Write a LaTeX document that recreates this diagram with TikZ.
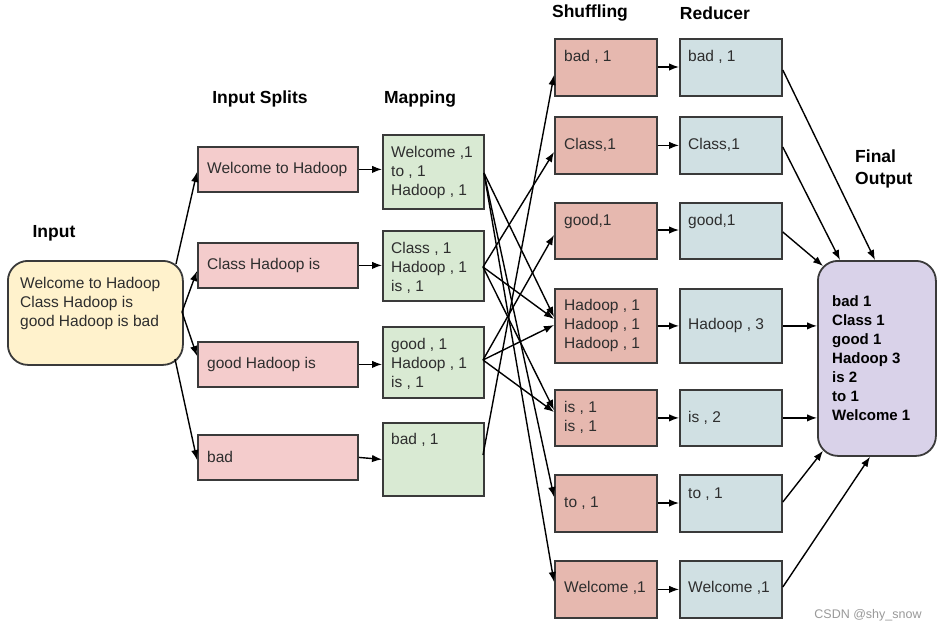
\documentclass[tikz,border=0pt]{standalone}
\usepackage{fontspec}
\setmainfont{Liberation Sans}
\usetikzlibrary{arrows.meta,calc}
\definecolor{inputc}{HTML}{FFF2CC}
\definecolor{splitc}{HTML}{F4CCCC}
\definecolor{mapc}{HTML}{D9EAD3}
\definecolor{shufc}{HTML}{E6B8AF}
\definecolor{redc}{HTML}{D0E0E3}
\definecolor{finalc}{HTML}{D9D2E9}
\definecolor{bordc}{HTML}{3A3A3A}
\definecolor{txtc}{HTML}{2E2E2E}
\begin{document}
\begin{tikzpicture}[x=1pt,y=-1pt,
  box/.style={draw=bordc, line width=1.8pt, inner sep=0pt, anchor=north west},
  rbox/.style={box, rounded corners=20pt},
  txt/.style={anchor=west, inner sep=0pt, text=txtc, font=\fontsize{15.5}{19}\selectfont, align=left},
  btxt/.style={txt, text=black, font=\fontsize{15}{19}\selectfont\bfseries},
  hdr/.style={font=\fontsize{17.5}{22}\selectfont\bfseries, text=black, inner sep=0pt},
  arr/.style={-{Latex[length=10pt,width=7.5pt]}, line width=1.4pt, black},
  wmark/.style={text=gray!80, font=\fontsize{12.5}{15}\selectfont, inner sep=0pt}
]
\useasboundingbox (0,0) rectangle (941,632);

% headers
\node[hdr] (hInput) at (54,233) {Input};
\node[hdr] (hSplit) at (260,99) {Input Splits};
\node[hdr] (hMap) at (420,99) {Mapping};
\node[hdr] (hShuf) at (590,13) {Shuffling};
\node[hdr] (hRed) at (715,13) {Reducer};
\node[hdr, anchor=west, align=left] (hFinal) at (855,169) {Final\\Output};

% input
\node[rbox, fill=inputc, minimum width=175, minimum height=104] (In) at (7,260) {};
\node[txt] (tIn) at (20,303) {Welcome to Hadoop\\Class Hadoop is\\good Hadoop is bad};

% splits
\node[box, fill=splitc, minimum width=160, minimum height=45] (Sp1) at (197,146) {};
\node[box, fill=splitc, minimum width=160, minimum height=45] (Sp2) at (197,242) {};
\node[box, fill=splitc, minimum width=160, minimum height=45] (Sp3) at (197,341) {};
\node[box, fill=splitc, minimum width=160, minimum height=45] (Sp4) at (197,434) {};
\node[txt] (tSp1) at (207,169) {Welcome to Hadoop};
\node[txt] (tSp2) at (207,265) {Class Hadoop is};
\node[txt] (tSp3) at (207,364) {good Hadoop is};
\node[txt] (tSp4) at (207,457) {bad};

% mapping
\node[box, fill=mapc, minimum width=101, minimum height=74] (M1) at (382,134) {};
\node[box, fill=mapc, minimum width=101, minimum height=70] (M2) at (382,230) {};
\node[box, fill=mapc, minimum width=101, minimum height=71] (M3) at (382,326) {};
\node[box, fill=mapc, minimum width=101, minimum height=73] (M4) at (382,422) {};
\node[txt] (tM1) at (391,172) {Welcome ,1\\to , 1\\Hadoop , 1};
\node[txt] (tM2) at (391,268) {Class , 1\\Hadoop , 1\\is , 1};
\node[txt] (tM3) at (391,364) {good , 1\\Hadoop , 1\\is , 1};
\node[txt] (tM4) at (391,440) {bad , 1};

% shuffling
\node[box, fill=shufc, minimum width=102, minimum height=57] (S1) at (554,38) {};
\node[box, fill=shufc, minimum width=102, minimum height=57] (S2) at (554,116) {};
\node[box, fill=shufc, minimum width=102, minimum height=56] (S3) at (554,202) {};
\node[box, fill=shufc, minimum width=102, minimum height=74] (S4) at (554,288) {};
\node[box, fill=shufc, minimum width=102, minimum height=56] (S5) at (554,389) {};
\node[box, fill=shufc, minimum width=102, minimum height=57] (S6) at (554,474) {};
\node[box, fill=shufc, minimum width=102, minimum height=57] (S7) at (554,560) {};
\node[txt] (tS1) at (564,57) {bad , 1};
\node[txt] (tS2) at (564,145) {Class,1};
\node[txt] (tS3) at (564,221) {good,1};
\node[txt] (tS4) at (564,325) {Hadoop , 1\\Hadoop , 1\\Hadoop , 1};
\node[txt] (tS5) at (564,417) {is , 1\\is , 1};
\node[txt] (tS6) at (564,503) {to ,  1};
\node[txt] (tS7) at (564,588) {Welcome ,1};

% reducer
\node[box, fill=redc, minimum width=102, minimum height=57] (R1) at (679,38) {};
\node[box, fill=redc, minimum width=102, minimum height=57] (R2) at (679,116) {};
\node[box, fill=redc, minimum width=102, minimum height=56] (R3) at (679,202) {};
\node[box, fill=redc, minimum width=102, minimum height=74] (R4) at (679,288) {};
\node[box, fill=redc, minimum width=102, minimum height=56] (R5) at (679,389) {};
\node[box, fill=redc, minimum width=102, minimum height=57] (R6) at (679,474) {};
\node[box, fill=redc, minimum width=102, minimum height=57] (R7) at (679,560) {};
\node[txt] (tR1) at (688,57) {bad , 1};
\node[txt] (tR2) at (688,145) {Class,1};
\node[txt] (tR3) at (688,221) {good,1};
\node[txt] (tR4) at (688,325) {Hadoop , 3};
\node[txt] (tR5) at (688,418) {is , 2};
\node[txt] (tR6) at (688,494) {to ,  1};
\node[txt] (tR7) at (688,588) {Welcome ,1};

% final
\node[rbox, fill=finalc, minimum width=118, minimum height=195] (Fin) at (817,260) {};
\node[btxt] (tFin) at (832,358) {bad 1\\Class 1\\good 1\\Hadoop 3\\is 2\\to 1\\Welcome 1};

% watermark
\node[wmark] (wm) at (868,615) {CSDN @shy\_snow};

% input -> splits
\coordinate (inA) at (176,264);
\coordinate (inB) at (182,312);
\coordinate (inC) at (175,359);
\draw[arr] (inA) -- (Sp1.west |- 0,172);
\draw[arr] (inB) -- (Sp2.west |- 0,271);
\draw[arr] (inB) -- (Sp3.west |- 0,356);
\draw[arr] (inC) -- (Sp4.west |- 0,460);

% splits -> mapping
\draw[arr] (Sp1.east) -- (Sp1.east -| M1.west);
\draw[arr] (Sp2.east) -- (Sp2.east -| M2.west);
\draw[arr] (Sp3.east) -- (Sp3.east -| M3.west);
\draw[arr] (Sp4.east) -- (M4.west);

% mapping -> shuffling
\coordinate (m1o) at (484,173);
\coordinate (m2o) at (483,267);
\coordinate (m3o) at (483,360);
\coordinate (m4o) at (483,455);
\draw[arr] (m1o) -- (S4.west |- 0,317);
\draw[arr] (m1o) -- (S6.west |- 0,497);
\draw[arr] (m1o) -- (S7.west |- 0,582);
\draw[arr] (m2o) -- (S2.west |- 0,152);
\draw[arr] (m2o) -- (S4.west |- 0,319);
\draw[arr] (m2o) -- (S5.west |- 0,410);
\draw[arr] (m3o) -- (S3.west |- 0,235);
\draw[arr] (m3o) -- (S4.west |- 0,325);
\draw[arr] (m3o) -- (S5.west |- 0,412);
\draw[arr] (m4o) -- (S1.west |- 0,75);

% shuffling -> reducer
\draw[arr] (S1.east |- 0,67) -- (R1.west |- 0,67);
\draw[arr] (S2.east) -- (R2.west);
\draw[arr] (S3.east |- 0,230) -- (R3.west |- 0,230);
\draw[arr] (S4.east) -- (R4.west);
\draw[arr] (S5.east) -- (R5.west);
\draw[arr] (S6.east |- 0,503) -- (R6.west |- 0,503);
\draw[arr] (S7.east) -- (R7.west);

% reducer -> final
\coordinate (fNW) at ($(Fin.north west)+(6,6)$);
\coordinate (fSW) at ($(Fin.south west)+(6,-6)$);
\draw[arr] (R1.east |- 0,70) -- (875,0 |- Fin.north);
\draw[arr] (R2.east |- 0,147) -- (840,0 |- Fin.north);
\draw[arr] (R3.east |- 0,232) -- (fNW);
\draw[arr] (R4.east) -- (Fin.west |- R4.east);
\draw[arr] (R5.east) -- (Fin.west |- R5.east);
\draw[arr] (R6.east |- 0,502) -- (fSW);
\draw[arr] (R7.east |- 0,587) -- (870,0 |- Fin.south);
\end{tikzpicture}
\end{document}
